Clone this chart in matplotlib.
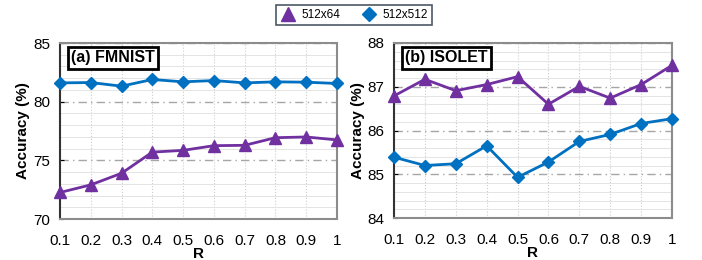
import numpy as np
import matplotlib.pyplot as plt
from matplotlib.ticker import MultipleLocator

plt.rcParams['font.family'] = ['Liberation Sans', 'DejaVu Sans']

r_vals = [0.1, 0.2, 0.3, 0.4, 0.5, 0.6, 0.7, 0.8, 0.9, 1.0]
r_labels = ['0.1', '0.2', '0.3', '0.4', '0.5', '0.6', '0.7', '0.8', '0.9', '1']

fmnist_64 = [72.26, 72.91, 73.9, 75.7, 75.85, 76.25, 76.28, 76.93, 76.99, 76.74]
fmnist_512 = [81.6, 81.63, 81.32, 81.89, 81.69, 81.8, 81.6, 81.69, 81.66, 81.55]
isolet_64 = [86.79, 87.17, 86.91, 87.05, 87.23, 86.6, 87.01, 86.74, 87.05, 87.49]
isolet_512 = [85.39, 85.2, 85.24, 85.65, 84.93, 85.28, 85.75, 85.91, 86.16, 86.27]

purple = '#7030A0'
blue = '#0070C0'

fig = plt.figure(figsize=(7.02, 2.6), dpi=100)
ax1 = fig.add_axes([60/702, 1-219/260, 277/702, 176/260])
ax2 = fig.add_axes([394/702, 1-218/260, 278/702, 175/260])

panels = [
    (ax1, fmnist_64, fmnist_512, (70, 85), 5, 1, '(a) FMNIST'),
    (ax2, isolet_64, isolet_512, (84, 88), 1, 0.2, '(b) ISOLET'),
]

for ax, s64, s512, ylim, major, minor, title in panels:
    ax.yaxis.set_minor_locator(MultipleLocator(minor))
    ax.yaxis.set_major_locator(MultipleLocator(major))
    ax.grid(axis='y', which='minor', color='#e4e4e4', lw=0.7)
    ax.grid(axis='y', which='major', color='#a6a6a6', lw=1.0, ls=(0, (6, 3, 1, 3)))
    ax.grid(axis='x', which='major', color='#cccccc', lw=0.8, ls=':')
    ax.set_axisbelow(True)
    l1, = ax.plot(r_vals, s64, color=purple, marker='^', ms=8.5, lw=2, clip_on=False, zorder=3)
    l2, = ax.plot(r_vals, s512, color=blue, marker='D', ms=6.5, lw=2, clip_on=False, zorder=3)
    ax.set_xlim(0.1, 1.0)
    ax.set_ylim(*ylim)
    ax.set_xticks(r_vals)
    ax.set_xticklabels(r_labels)
    ax.tick_params(axis='both', labelsize=11, length=0)
    ax.tick_params(axis='x', pad=11)
    ax.tick_params(axis='y', which='minor', length=0)
    ax.tick_params(axis='y', which='major', length=3, color='black', direction='in', pad=7)
    for side in ['top', 'right', 'bottom']:
        ax.spines[side].set_color('#8c8c8c')
        ax.spines[side].set_linewidth(1.5)
    ax.spines['left'].set_color('#333333')
    ax.spines['left'].set_linewidth(1.5)
    ax.set_xlabel('R', fontweight='bold', fontsize=11, labelpad=-1)
    ax.set_ylabel('Accuracy (%)', fontweight='bold', fontsize=11, labelpad=2)
    ax.text(0.04, 0.915, title, transform=ax.transAxes, fontsize=11.5, fontweight='bold',
            va='center', ha='left',
            bbox=dict(boxstyle='square,pad=0.22', fc='white', ec='black', lw=2))

leg = fig.legend([l1, l2], ['512x64', '512x512'], loc='center', bbox_to_anchor=(354/702, 1-15/260),
                 ncol=2, fontsize=8.5, frameon=True, fancybox=False, edgecolor='#1f2f3f',
                 handletextpad=0.5, columnspacing=1.8, borderpad=0.35, handlelength=1.3)
leg.get_frame().set_linewidth(1.2)
for h in leg.legend_handles:
    h.set_linestyle('none')
leg.legend_handles[0].set_markersize(10)
leg.legend_handles[1].set_markersize(7)

fig.savefig('out.png', dpi=100)
